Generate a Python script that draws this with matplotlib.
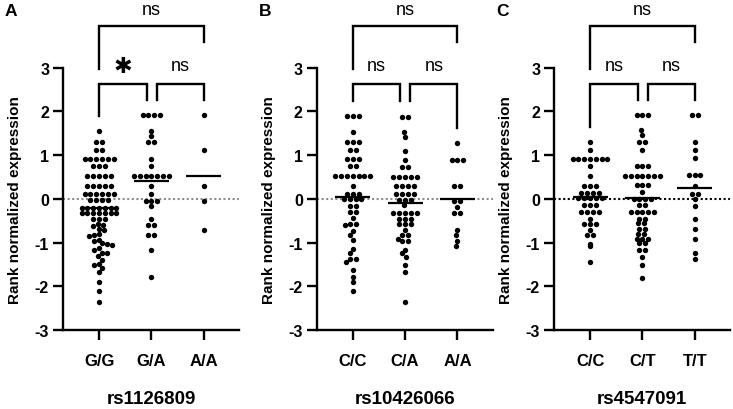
import numpy as np
import matplotlib
matplotlib.use('Agg')
import matplotlib.pyplot as plt

plt.rcParams['font.family'] = ['Liberation Sans', 'DejaVu Sans']

# ---- data ----
snps = ['rs1126809', 'rs10426066', 'rs4547091']
tags = ['A', 'B', 'C']
genotypes = [['G/G', 'G/A', 'A/A'], ['C/C', 'C/A', 'A/A'], ['C/C', 'C/T', 'T/T']]

a_gg = [1.55, 1.29, 1.29, 1.12, 1.12,
        0.92, 0.92, 0.92, 0.92, 0.92, 0.92, 0.74, 0.74, 0.74,
        0.53, 0.53, 0.53, 0.53, 0.53, 0.30, 0.30, 0.30, 0.30, 0.30,
        0.12, 0.12, 0.12, 0.12, 0.12, 0.12, -0.03, -0.03, -0.03, -0.03,
        -0.20, -0.20, -0.20, -0.20, -0.20, -0.20, -0.20,
        -0.32, -0.32, -0.32, -0.32, -0.32, -0.32, -0.32, -0.46, -0.46, -0.46,
        -0.57, -0.59, -0.62, -0.68, -0.71, -0.80, -0.82, -0.84, -0.93, -0.96,
        -1.02, -1.04, -1.06, -1.13, -1.16, -1.23, -1.25, -1.30, -1.40, -1.50,
        -1.52, -1.59, -1.68, -1.91, -2.10, -2.36]
a_ga = [1.92, 1.92, 1.92, 1.92, 1.56, 1.44, 1.29, 1.29, 0.92, 0.74,
        0.53, 0.53, 0.53, 0.53, 0.53, 0.53, 0.53, 0.30, 0.12,
        -0.05, -0.05, -0.05, -0.17, -0.45, -0.59, -0.59, -0.82, -0.82, -1.16, -1.79]
a_aa = [1.92, 1.12, 0.30, -0.05, -0.71]

b_cc = [1.89, 1.89, 1.89, 1.52, 1.29, 1.29, 1.29, 1.11, 1.11,
        0.91, 0.91, 0.91, 0.74, 0.74, 0.52, 0.52, 0.52, 0.52, 0.52, 0.52, 0.52,
        0.29, 0.10, 0.10, 0.10, -0.01, -0.01, -0.01, -0.01, -0.17, -0.17, -0.31, -0.31,
        -0.44, -0.57, -0.57, -0.60, -0.73, -0.83, -0.93, -1.15, -1.25, -1.38, -1.38,
        -1.45, -1.62, -1.78, -1.91, -2.10]
b_ca = [1.88, 1.88, 1.53, 1.42, 1.10, 0.90, 0.73, 0.73,
        0.51, 0.51, 0.51, 0.51, 0.51, 0.29, 0.29, 0.29, 0.29, 0.11, 0.11, 0.11, 0.11,
        -0.02, -0.02, -0.02, -0.13, -0.32, -0.32, -0.32, -0.32, -0.32,
        -0.46, -0.46, -0.46, -0.58, -0.58, -0.58, -0.71, -0.82, -0.82, -0.92,
        -0.97, -0.97, -1.16, -1.25, -1.33, -1.52, -1.68, -2.36]
b_aa = [1.27, 0.90, 0.90, 0.90, 0.29, 0.29, -0.05, -0.05, -0.18, -0.32, -0.32,
        -0.71, -0.82, -0.97, -1.08]

c_cc = [1.29, 1.12, 0.92, 0.92, 0.92, 0.92, 0.92, 0.92, 0.92, 0.74, 0.53,
        0.30, 0.30, 0.30, 0.14, 0.14, 0.14, 0.14, 0.02, 0.02, 0.02, 0.02, 0.02,
        -0.15, -0.15, -0.15, -0.31, -0.31, -0.31, -0.31, -0.45, -0.58, -0.58, -0.58,
        -0.71, -0.82, -0.82, -1.03, -1.07, -1.44]
c_ct = [1.91, 1.91, 1.91, 1.57, 1.46, 1.30, 1.30, 1.12, 0.75, 0.75, 0.75,
        0.53, 0.53, 0.53, 0.53, 0.53, 0.53, 0.53, 0.31, 0.31, 0.31, 0.15,
        0.0, 0.0, 0.0, 0.0, -0.15, -0.15, -0.31, -0.31, -0.31, -0.31, -0.31,
        -0.45, -0.45, -0.56, -0.56, -0.69, -0.69, -0.80, -0.80, -0.92, -0.92, -0.92,
        -1.02, -1.02, -1.16, -1.16, -1.34, -1.52, -1.80]
c_tt = [1.91, 1.91, 1.30, 1.12, 0.93, 0.54, 0.54, 0.54, 0.30, 0.12, 0.12,
        0.0, -0.16, -0.46, -0.69, -0.92, -1.25, -1.38]

groups = [[a_gg, a_ga, a_aa], [b_cc, b_ca, b_aa], [c_cc, c_ct, c_tt]]
sig_left = ['*', 'ns', 'ns']
sig_right = ['ns', 'ns', 'ns']
sig_top = ['ns', 'ns', 'ns']
zero_colors = ['#8c8c8c', '#8c8c8c', 'black']

# ---- layout (pixels on a 733x410 canvas) ----
W, H = 733, 410
lefts = [63, 316.7, 554]
ax_w, y_bot, y_top = 176, 331, 68.7
xlo, xhi = -0.69, 2.675
px_x = ax_w / (xhi - xlo)
px_y = (y_bot - y_top) / 6.0
gap = 5.8   # horizontal spacing of tied dots (px)
cdist = 5.0  # minimum distance between dot centres (px)


def swarm(vals):
    vals = np.asarray(vals, float)
    uniq, counts = np.unique(vals, return_counts=True)
    med = np.median(vals)
    order = sorted(range(len(uniq)), key=lambda i: (-counts[i], abs(uniq[i] - med)))
    px, py = [], []
    xs = np.zeros(len(vals))
    for i in order:
        v, n = uniq[i], counts[i]
        y = v * px_y
        base = (np.arange(n) - (n - 1) / 2) * gap
        cands = [0.0, gap / 2, -gap / 2]
        for qx, qy in zip(px, py):
            dy = abs(qy - y)
            if dy < cdist:
                dx = np.sqrt(cdist ** 2 - dy ** 2)
                for b in base:
                    cands += [qx + dx - b, qx - dx - b]
        cands = sorted(set(np.round(cands, 6)), key=lambda s: (abs(s), s))
        shift = 0.0
        for s in cands:
            ok = True
            for b in base:
                for qx, qy in zip(px, py):
                    if (b + s - qx) ** 2 + (y - qy) ** 2 < cdist ** 2 - 1e-6:
                        ok = False
                        break
                if not ok:
                    break
            if ok:
                shift = s
                break
        idx = np.where(vals == v)[0]
        for k, j in enumerate(idx):
            xs[j] = (base[k] + shift) / px_x
            px.append(base[k] + shift)
            py.append(y)
    return xs


fig = plt.figure(figsize=(W / 100, H / 100), dpi=100)

for p in range(3):
    ax = fig.add_axes([lefts[p] / W, (H - y_bot) / H, ax_w / W, (y_bot - y_top) / H])
    ax.axhline(0, color=zero_colors[p], lw=1.5, ls=(0, (1, 1.2)), zorder=1)
    for g, vals in enumerate(groups[p]):
        off = swarm(vals)
        ax.scatter(g + off, vals, s=15, color='black', linewidths=0, zorder=3)
        m = np.mean(vals)
        ax.plot([g - 0.335, g + 0.335], [m, m], color='black', lw=1.6,
                solid_capstyle='butt', zorder=4)

    ax.set_xlim(xlo, xhi)
    ax.set_ylim(-3, 3)
    ax.set_xticks([0, 1, 2])
    ax.set_xticklabels(genotypes[p], fontsize=12, fontweight='bold')
    ax.set_yticks(range(-3, 4))
    ax.set_yticklabels([str(t) for t in range(-3, 4)], fontsize=11.5, fontweight='bold')
    ax.tick_params(length=7.5, width=1.7, pad=2.5)
    ax.tick_params(axis='x', pad=9)
    for s in ['top', 'right']:
        ax.spines[s].set_visible(False)
    for s in ['left', 'bottom']:
        ax.spines[s].set_linewidth(1.7)
    ax.set_ylabel('Rank normalized expression', fontsize=11, fontweight='bold', labelpad=9)
    ax.set_xlabel(snps[p], fontsize=13.5, fontweight='bold', labelpad=16)

    # significance brackets
    tops = [max(v) + 0.35 for v in groups[p]]
    kw = dict(color='black', lw=1.7, clip_on=False, solid_joinstyle='miter')
    ax.plot([0, 0, 0.91, 0.91], [tops[0], 2.63, 2.63, tops[1]], **kw)
    ax.plot([1.1, 1.1, 2, 2], [tops[1], 2.63, 2.63, tops[2]], **kw)
    ax.plot([0, 0, 2, 2], [2.97, 3.95, 3.95, 3.58], **kw)
    if sig_left[p] == '*':
        ax.text(0.455, 3.05, '✱', ha='center', va='center', fontsize=16,
                family='DejaVu Sans', clip_on=False)
    else:
        ax.text(0.455, 2.95, sig_left[p], ha='center', va='baseline', fontsize=13)
    ax.text(1.55, 2.95, sig_right[p], ha='center', va='baseline', fontsize=13)
    ax.text(1.0, 4.23, sig_top[p], ha='center', va='baseline', fontsize=13)

    fig.text((lefts[p] - 58) / W, 1 - 12 / H, tags[p], fontsize=12.5,
             fontweight='bold', va='center', ha='left')

fig.savefig('out.png', dpi=100)
